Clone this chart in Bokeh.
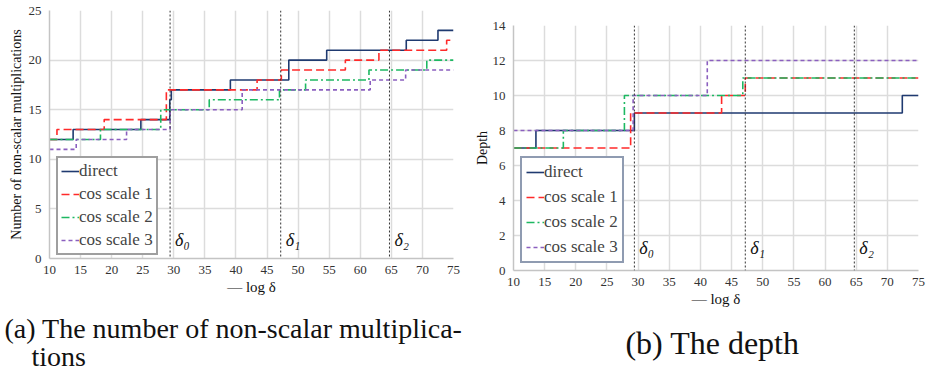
from bokeh.plotting import figure
from bokeh.layouts import row, column
from bokeh.models import Range1d, Span, Label, Legend, LegendItem, SingleIntervalTicker, Spacer
from bokeh.embed import file_html
from bokeh.resources import INLINE

# ---- data: (a) number of non-scalar multiplications ----
a_direct_x = [10, 13.8, 24.7, 29.35, 29.6, 39.1, 48.5, 54.6, 67.4, 72.5, 75]
a_direct_y = [12, 13, 14, 16, 17, 18, 20, 21, 22, 23, 23]
a_cos1_x = [10, 11.2, 18.8, 28.8, 43.4, 47.3, 57.6, 63.0, 73.9, 75]
a_cos1_y = [12, 13, 14, 17, 18, 19, 20, 21, 22, 22]
a_cos2_x = [10, 18.2, 27.9, 35.7, 47.0, 51.2, 61.4, 70.7, 75]
a_cos2_y = [12, 13, 15, 16, 17, 18, 19, 20, 20]
a_cos3_x = [10, 14.3, 22.4, 29.4, 41.0, 61.6, 67.3, 75]
a_cos3_y = [11, 12, 13, 15, 17, 18, 19, 19]

# ---- data: (b) depth ----
b_direct_x = [10, 13.6, 29.4, 72.4, 75]
b_direct_y = [7, 8, 9, 10, 10]
b_cos1_x = [10, 28.8, 43.4, 47.2, 75]
b_cos1_y = [7, 9, 10, 11, 11]
b_cos2_x = [10, 18.0, 27.8, 46.8, 75]
b_cos2_y = [7, 8, 10, 11, 11]
b_cos3_x = [10, 29.2, 41.1, 75]
b_cos3_y = [8, 10, 12, 12]

deltas = [29.4, 47.2, 64.7]
delta_labels = ["δ₀", "δ₁", "δ₂"]
series_names = ["direct", "cos scale 1", "cos scale 2", "cos scale 3"]
caption_a1 = "(a) The number of non-scalar multiplica-"
caption_a2 = "tions"
caption_b = "(b) The depth"

SERIF = "Liberation Serif"
colors = ["#1F3A70", "#FF2A2A", "#1DB862", "#8B5FBF"]
dashes = ["solid", "8 4", "8 3 2 3", "4 3"]


def make_fig(width, ml, mr, mt, frame_h, height, y_end, y_step, ylabel, ylab_standoff):
    p = figure(width=width, height=height, output_backend="svg", toolbar_location=None,
               x_range=Range1d(10, 75), y_range=Range1d(0, y_end),
               min_border_left=ml, min_border_right=mr, min_border_top=mt,
               min_border_bottom=height - mt - frame_h)
    p.outline_line_color = None
    p.background_fill_color = "white"
    p.xaxis.ticker = SingleIntervalTicker(interval=5)
    p.yaxis.ticker = SingleIntervalTicker(interval=y_step)
    for ax in (p.xaxis[0], p.yaxis[0]):
        ax.major_tick_line_color = None
        ax.minor_tick_line_color = None
        ax.major_tick_out = 0
        ax.major_tick_in = 0
        ax.minor_tick_out = 0
        ax.minor_tick_in = 0
        ax.axis_line_color = "#C4C4C4"
        ax.axis_line_width = 1.5
        ax.major_label_text_font = SERIF
        ax.major_label_text_font_size = "13px"
        ax.major_label_text_color = "#333333"
        ax.axis_label_text_font = SERIF
        ax.axis_label_text_font_style = "normal"
        ax.axis_label_text_color = "#111111"
    p.xaxis.major_label_standoff = 7
    p.yaxis.major_label_standoff = 8
    p.xaxis.axis_label = "— log δ"
    p.xaxis.axis_label_text_font_size = "15px"
    p.xaxis.axis_label_standoff = 2
    p.yaxis.axis_label = ylabel
    p.yaxis.axis_label_text_font_size = "14px"
    p.yaxis.axis_label_standoff = ylab_standoff
    p.grid.grid_line_color = "#DCDCDC"
    p.grid.grid_line_width = 1.5
    return p


def add_series(p, xs_list, ys_list, legend_border, loc, pad, spacing):
    items = []
    for xs, ys, c, d, name in zip(xs_list, ys_list, colors, dashes, series_names):
        r = p.step(xs, ys, mode="after", line_color=c, line_width=1.6, line_dash=d)
        items.append(LegendItem(label=name, renderers=[r]))
    leg = Legend(items=items, location=loc, label_text_font=SERIF,
                 label_text_font_size="17px", glyph_width=18, glyph_height=20,
                 label_standoff=0, padding=pad, spacing=spacing, margin=0,
                 border_line_color=legend_border, border_line_width=2,
                 background_fill_color="white", background_fill_alpha=1.0)
    p.add_layout(leg, "center")


def add_deltas(p, label_x_off, label_y):
    for dx, lab in zip(deltas, delta_labels):
        p.add_layout(Span(location=dx, dimension="height", line_color="#333333",
                          line_width=1, line_dash="2 2"))
        p.add_layout(Label(x=dx + label_x_off, y=label_y, text=lab, text_font=SERIF,
                           text_font_style="italic", text_font_size="18px",
                           text_baseline="middle", text_color="#111111"))


# (a): frame 49..453 x, 10..258 y
fa = make_fig(463, 49, 10, 10, 248, 301, 25, 5, "Number of non-scalar multiplications", 2)
add_series(fa, [a_direct_x, a_cos1_x, a_cos2_x, a_cos3_x],
           [a_direct_y, a_cos1_y, a_cos2_y, a_cos3_y], "#404040", (7, 3), 3, 3)
add_deltas(fa, 0.8, 1.9)

# (b): frame 513..918 x, 25..270 y
fb = make_fig(463, 50, 8, 6, 245, 292, 14, 2, "Depth", 0)
add_series(fb, [b_direct_x, b_cos1_x, b_cos2_x, b_cos3_x],
           [b_direct_y, b_cos1_y, b_cos2_y, b_cos3_y], "#1F3864", (7, 7), 4, 5)
add_deltas(fb, 0.8, 1.3)

# caption strip (pixel coordinates), starts at page y = 311
CAP_W, CAP_H = 926, 64
cap = figure(width=CAP_W, height=CAP_H, output_backend="svg", toolbar_location=None,
             x_range=Range1d(0, CAP_W), y_range=Range1d(0, CAP_H),
             min_border=0, outline_line_color=None)
cap.axis.visible = False
cap.grid.visible = False
for txt, x, y, size, align in [(caption_a1, 4, 47, "28px", "left"),
                               (caption_a2, 31, 19, "28px", "left"),
                               (caption_b, 712, 33, "32px", "center")]:
    cap.add_layout(Label(x=x, y=y, text=txt, text_font=SERIF, text_font_size=size,
                         text_align=align, text_baseline="middle", text_color="#111111"))

layout = column(row(fa, column(Spacer(height=19), fb)), cap)
open("out.html", "w").write(file_html(layout, INLINE))
